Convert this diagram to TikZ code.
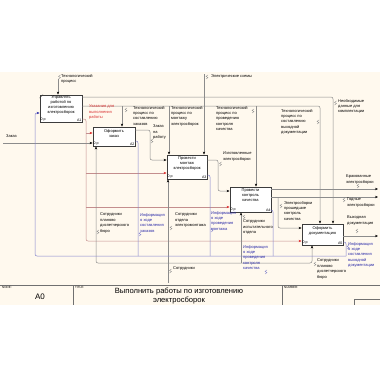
\documentclass[tikz,border=0pt]{standalone}
\usepackage{fontspec}
\setmainfont{Liberation Sans}
\usetikzlibrary{arrows.meta,calc}
\definecolor{cream}{HTML}{FFF9EE}
\definecolor{boxline}{HTML}{3C3C3C}
\definecolor{arr}{HTML}{8C8C8C}
\definecolor{pinkl}{HTML}{C48E8E}
\definecolor{redh}{HTML}{E02828}
\definecolor{bluel}{HTML}{8484CC}
\definecolor{bluet}{HTML}{2A2AA8}
\definecolor{redt}{HTML}{D83030}
\begin{document}
\begin{tikzpicture}[x=1pt,y=-1pt,
  fbox/.style={draw=boxline, line width=0.9pt, fill=white, inner sep=0pt},
  btext/.style={font=\fontsize{4}{5.1}\selectfont, align=center, inner sep=0pt, anchor=north},
  corner/.style={font=\fontsize{3.6}{4}\selectfont, inner sep=0.8pt},
  lbl/.style={font=\fontsize{4}{5.4}\selectfont, align=left, inner sep=0pt, anchor=north west},
  conn/.style={draw=arr, line width=0.5pt, rounded corners=2pt},
  pinkc/.style={draw=pinkl, line width=0.5pt, rounded corners=2pt},
  bluec/.style={draw=bluel, line width=0.5pt, rounded corners=2pt},
  arrk/.style={-{Stealth[length=3pt,width=2.4pt,black]}},
  arrr/.style={-{Stealth[length=3pt,width=2.4pt,redh]}},
  arrb/.style={-{Stealth[length=3pt,width=2.4pt,bluet]}},
  squig/.pic={\draw[arr,line width=0.35pt] (-1,2) -- (1,0.6) -- (-1,-0.6) -- (1,-2);},
  bsquig/.pic={\draw[bluel,line width=0.35pt] (-1,2) -- (1,0.6) -- (-1,-0.6) -- (1,-2);},
  tlabel/.style={font=\fontsize{3}{3}\selectfont, inner sep=0pt, anchor=north west}
]
\useasboundingbox (0,0) rectangle (380,380);
\fill[white] (0,0) rectangle (380,380);
\fill[cream] (0,72) rectangle (380,305);

% boxes
\node[fbox, minimum width=42pt, minimum height=27pt] (A1) at (61,108.5) {};
\node[fbox, minimum width=42pt, minimum height=19pt] (A2) at (114,136.5) {};
\node[fbox, minimum width=40pt, minimum height=24pt] (A3) at (187,167) {};
\node[fbox, minimum width=41pt, minimum height=25pt] (A4) at (250.5,199.5) {};
\node[fbox, minimum width=41pt, minimum height=21pt] (A5) at (322.5,234.5) {};
\draw[boxline, line width=0.4pt] ($(A1.north west)+(0,3.5)$) -- ($(A1.north west)+(3.5,0)$);

% control: Технологический процесс
\coordinate (tpS) at (58,79);
\draw[conn,arrk] (tpS) -- (A1.north -| tpS);

% Необходимые данные для комплектации
\coordinate (ndC) at (333,97);
\draw[conn,arrk] (A1.east |- ndC) -- (ndC) -- (A5.north -| ndC);

% technological processes bus
\coordinate (tbC) at (320,106);
\coordinate (jA2) at (122,106);
\coordinate (jA3) at (169,106);
\coordinate (jA4) at (256,106);
\draw[conn,arrk] (A1.east |- tbC) -- (tbC) -- (A5.north -| tbC);
\draw[conn,arrk] (jA2) -- (A2.north -| jA2);
\draw[conn,arrk] (jA3) -- (A3.north -| jA3);
\draw[conn,arrk] (jA4) -- (A4.north -| jA4);

% Электрические схемы
\coordinate (esS) at (204,74);
\draw[conn,arrk] (esS) -- (A3.north -| esS);

% Указания для выполнения работы (pink / red)
\coordinate (pkT) at (86,119);
\coordinate (pkB) at (86,241);
\coordinate (pk2) at (86,133);
\coordinate (pk3) at (86,173);
\coordinate (pk4) at (86,207);
\draw[pinkc,arrr] (A1.east |- pkT) -- (pkT) -- (pkB) -- (A5.west |- pkB);
\draw[pinkc,arrr] (pk2) -- (A2.west |- pk2);
\draw[pinkc,arrr] (pk3) -- (A3.west |- pk3);
\draw[pinkc,arrr] (pk4) -- (A4.west |- pk4);

% Заказ
\coordinate (zS) at (3,143);
\draw[conn,arrk] (zS) -- (A2.west |- zS);

% Заказ на работу
\coordinate (zr1) at (150,130);
\coordinate (zr2) at (150,160);
\draw[conn,arrk] (A2.east |- zr1) -- (zr1) -- (zr2) -- (A3.west |- zr2);

% Изготовленные электросборки
\coordinate (iz1) at (218,160);
\coordinate (iz2) at (218,191);
\draw[conn,arrk] (A3.east |- iz1) -- (iz1) -- (iz2) -- (A4.west |- iz2);

% A4 outputs
\coordinate (brE) at (378,189);
\coordinate (gdE) at (378,197);
\coordinate (jG) at (278,197);
\coordinate (pk5) at (278,228);
\draw[conn,arrk] (A4.east |- brE) -- (brE);
\draw[conn,arrk] (A4.east |- gdE) -- (gdE);
\draw[conn,arrk] (jG) -- (pk5) -- (A5.west |- pk5);

% Выходная документация
\coordinate (vdE) at (378,236);
\draw[conn,arrk] (A5.east |- vdE) -- (vdE);

% mechanisms
\coordinate (mS) at (168,283);
\coordinate (mJ) at (168,263);
\coordinate (mL) at (96,263);
\coordinate (mR) at (312,263);
\coordinate (m4) at (241,263);
\draw[conn,arrk] (mS) -- (A3.south -| mS);
\draw[conn,arrk] (mJ) -- (mL) -- (A2.south -| mL);
\draw[conn,arrk] (mJ) -- (mR) -- (A5.south -| mR);
\draw[conn,arrk] (m4) -- (A4.south -| m4);

% blue feedback
\coordinate (b2a) at (138,141); \coordinate (b2b) at (138,256);
\coordinate (b3a) at (210,175); \coordinate (b3b) at (210,256);
\coordinate (b4a) at (273,210); \coordinate (b4b) at (273,256);
\coordinate (b5a) at (346,242); \coordinate (b5b) at (346,256);
\coordinate (bL) at (35,256); \coordinate (bT) at (35,113);
\draw[bluec] (A2.east |- b2a) -- (b2a) -- (b2b);
\draw[bluec] (A3.east |- b3a) -- (b3a) -- (b3b);
\draw[bluec] (A4.east |- b4a) -- (b4a) -- (b4b);
\draw[bluec] (A5.east |- b5a) -- (b5a) -- (b5b);
\draw[bluec,arrb] (b5b) -- (bL) -- (bT) -- (A1.west |- bT);

% box texts
\node[btext] (t1) at ([yshift=-1pt]A1.north) {Управлять\\работой по\\изготовлению\\электросборок};
\node[btext] (t2) at ([yshift=-2.5pt]A2.north) {Оформить\\заказ};
\node[btext] (t3) at ([yshift=-2pt]A3.north) {Провести\\монтаж\\электросборок};
\node[btext] (t4) at ([yshift=-2pt]A4.north) {Провести\\контроль\\качества};
\node[btext] (t5) at ([yshift=-3pt]A5.north) {Оформить\\документацию};
\foreach \b in {A1,A2,A3,A4,A5}{
  \node[corner, anchor=south west] (\b p) at (\b.south west) {0 р};
  \node[corner, anchor=south east] (\b n) at (\b.south east) {\b};
}

% labels
\node[lbl] (L1) at (61,74) {Технологический\\процесс};
\node[lbl] (L2) at (338,99) {Необходимые\\данные для\\комплектации};
\node[lbl] (L3) at (133,106) {Технологический\\процесс по\\составлению\\заказов};
\node[lbl] (L4) at (171,106) {Технологический\\процесс по\\монтажу\\электросборок};
\node[lbl] (L5) at (216,106) {Технологический\\процесс по\\проведению\\контроля\\качества};
\node[lbl] (L6) at (281,109) {Технологический\\процесс по\\составлению\\выходной\\документации};
\node[lbl] (L7) at (211,75) {Электрические схемы};
\node[lbl,text=redt] (L8) at (89,105) {Указания для\\выполнения\\работы};
\node[lbl] (L9) at (153,125) {Заказ\\на\\работу};
\node[lbl] (L10) at (223,152) {Изготовленные\\электросборки};
\node[lbl] (L11) at (6,135) {Заказ};
\node[lbl] (L12) at (346,175) {Бракованные\\электросборки};
\node[lbl] (L13) at (347,198) {Годные\\электросборки};
\node[lbl] (L14) at (284,201) {Электросборки\\прошедшие\\контроль\\качества};
\node[lbl] (L15) at (347,216) {Выходная\\документация};
\node[lbl] (L16) at (100,213) {Сотрудники\\планово\\диспетчерского\\бюро};
\node[lbl,text=bluet] (L17) at (140,213) {Информация\\о ходе\\составления\\заказов};
\node[lbl] (L18) at (175,213) {Сотрудники\\отдела\\электромонтажа};
\node[lbl,text=bluet] (L19) at (211,211) {Информация\\о ходе\\проведения\\монтажа};
\node[lbl] (L20) at (243,220) {Сотрудники\\испытательного\\отдела};
\node[lbl,text=bluet] (L21) at (243,245) {Информация\\о ходе\\проведения\\контроля\\качества};
\node[lbl,text=bluet] (L22) at (348,242) {Информация\\о ходе\\составления\\выходной\\документации};
\node[lbl] (L23) at (317,259) {Сотрудники\\планово\\диспетчерского\\бюро};
\node[lbl] (L24) at (173,267) {Сотрудники};

% squiggles
\pic at (59.5,77) {squig};
\pic at (335.5,103) {squig};
\pic at (126,110) {squig};
\pic at (207,77) {squig};
\pic at (253,111) {squig};
\pic at (318,122) {squig};
\pic at (152,141) {squig};
\pic at (220.5,164) {squig};
\pic at (358,186) {squig};
\pic at (344,200) {squig};
\pic at (281,206) {squig};
\pic at (357,231) {squig};
\pic at (98,232) {squig};
\pic at (171,228) {squig};
\pic at (170.5,271) {squig};
\pic at (315,264) {squig};
\pic at (244,217) {squig};
\pic at (140,234) {bsquig};
\pic at (212,230) {bsquig};
\pic at (266,272) {bsquig};
\pic at (348,247) {bsquig};

% title block
\draw[arr!80!black, line width=0.5pt] (0,285) -- (380,285);
\draw[arr!80!black, line width=0.5pt] (73,285) -- (73,305);
\draw[arr!80!black, line width=0.5pt] (282,285) -- (282,305);
\draw[arr!80!black, line width=0.5pt] (380,299) -- (354,299) -- (354,305);
\node[tlabel] (nodeL) at (2,286.5) {NODE:};
\node[tlabel] (titleL) at (75,286.5) {TITLE:};
\node[tlabel] (numL) at (284,286.5) {NUMBER:};
\node[font=\fontsize{8}{8}\selectfont, inner sep=0pt] (node) at (40,297) {A0};
\node[font=\fontsize{7.6}{9.4}\selectfont, align=center, inner sep=0pt] (title) at (179,296) {Выполнить работы по изготовлению\\электросборок};
\end{tikzpicture}
\end{document}
